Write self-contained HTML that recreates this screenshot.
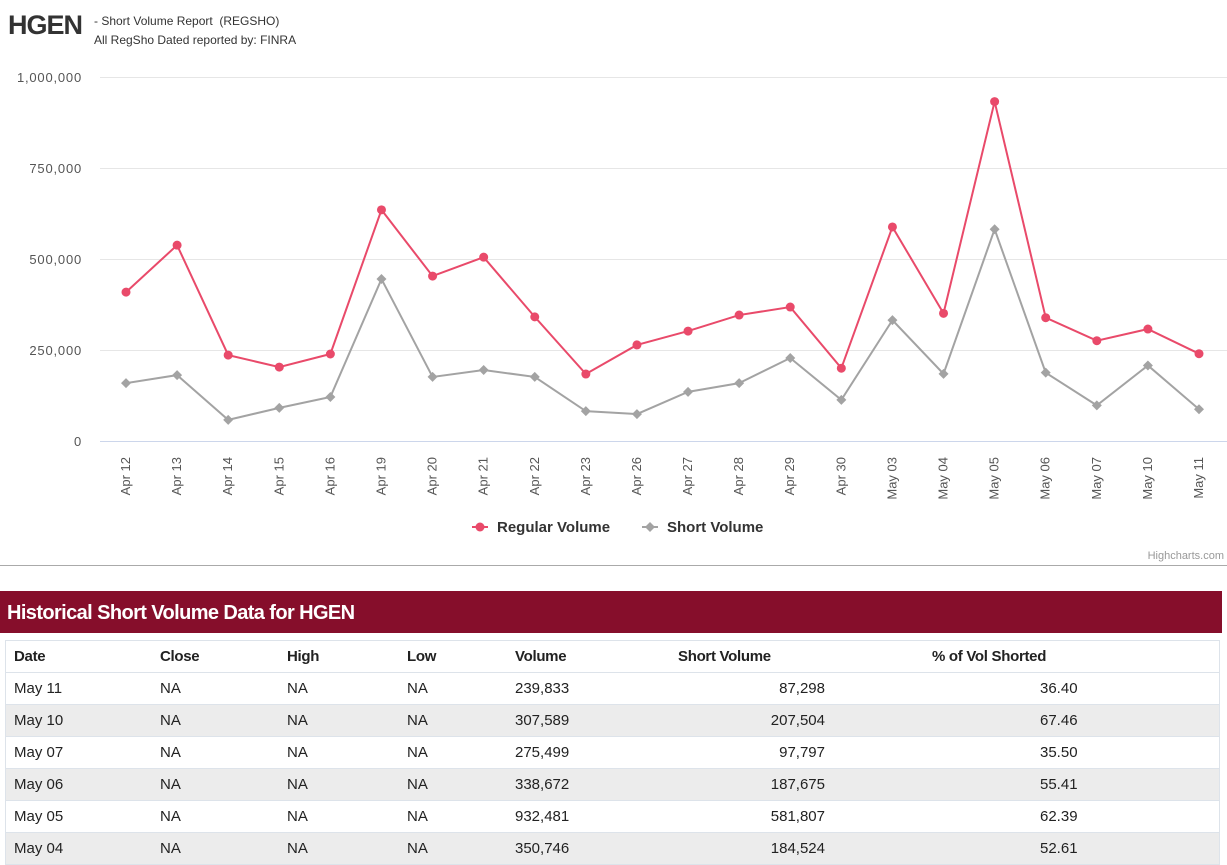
<!DOCTYPE html>
<html><head><meta charset="utf-8"><style>
body{margin:0;width:1227px;height:865px;overflow:hidden;background:#fff;font-family:"Liberation Sans",sans-serif;color:#222;position:relative}
.abs{position:absolute}
table{border-collapse:collapse;position:absolute;left:5px;top:640px;width:1215px;font-size:15px;border:1px solid #dde3ea}
td,th{height:31px;padding:0;border-bottom:1px solid #dde3ea;text-align:left}
th{font-weight:bold;font-size:15px;letter-spacing:-0.3px}
tr.g td{background:#ececec}
</style></head><body>
<div class="abs" style="left:8px;top:10px;font-size:27px;font-weight:bold;color:#333;letter-spacing:-1px">HGEN</div>
<div class="abs" style="left:94px;top:12px;font-size:12px;line-height:19px;color:#333">- Short Volume Report&nbsp; (REGSHO)<br>All RegSho Dated reported by: FINRA</div>
<svg class="abs" style="left:0;top:0" width="1227" height="570">
<g id="grid"></g><g id="ylab"></g><g id="xlab"></g><g id="series"></g>
<g>
<line x1="472" y1="527" x2="488" y2="527" stroke="#e94a6a" stroke-width="2"/><circle cx="480" cy="527" r="4.5" fill="#e94a6a"/>
<text x="497" y="532" font-size="15" font-weight="bold" fill="#333">Regular Volume</text>
<line x1="642" y1="527" x2="658" y2="527" stroke="#a3a3a3" stroke-width="2"/><path d="M650 522 L655 527 L650 532 L645 527Z" fill="#a3a3a3"/>
<text x="667" y="532" font-size="15" font-weight="bold" fill="#333">Short Volume</text>
</g>
<text x="1224" y="559" text-anchor="end" font-size="11" fill="#999">Highcharts.com</text>
<line x1="0" y1="565.5" x2="1227" y2="565.5" stroke="#aaa"/>
</svg>
<div class="abs" style="left:0;top:591px;width:1222px;height:42px;background:#860e2b;color:#fff;font-size:20px;font-weight:bold;line-height:44px;padding-left:7px;box-sizing:border-box;letter-spacing:-0.6px">Historical Short Volume Data for HGEN</div>
<table>
<tr><th style="padding-left:8px;width:146px">Date</th><th style="width:127px">Close</th><th style="width:120px">High</th><th style="width:108px">Low</th><th style="width:163px">Volume</th><th style="width:147px">Short Volume</th><th style="width:107px"></th><th>% of Vol Shorted</th></tr>
<tbody id="tb"></tbody></table>
<script>
const cats=["Apr 12","Apr 13","Apr 14","Apr 15","Apr 16","Apr 19","Apr 20","Apr 21","Apr 22","Apr 23","Apr 26","Apr 27","Apr 28","Apr 29","Apr 30","May 03","May 04","May 05","May 06","May 07","May 10","May 11"];
const regular=[409000,538000,236000,203000,239000,635000,453000,505000,341000,184000,264000,302000,346000,368000,200000,588000,350746,932481,338672,275499,307589,239833];
const shortVol=[159000,181000,58000,91000,121000,445000,176000,195000,176000,82000,74000,135000,159000,228000,113000,332000,184524,581807,187675,97797,207504,87298];
const yTicks=[0,250000,500000,750000,1000000];
const ns="http://www.w3.org/2000/svg";
const x0=126,x1=1199,yb=441,yt=77;
const X=i=>x0+i*(x1-x0)/(cats.length-1);
const Y=v=>yb-v/1e6*(yb-yt);
function mk(t,a,p){const e=document.createElementNS(ns,t);for(const k in a)e.setAttribute(k,a[k]);document.getElementById(p).appendChild(e);return e;}
yTicks.forEach(v=>{
 const l=mk('line',{x1:100,x2:1227,y1:Y(v)+0.5,y2:Y(v)+0.5,stroke:v?'#e6e6e6':'#ccd6eb'},'grid');
 
 
 const t=mk('text',{x:82,y:Y(v)+5,'text-anchor':'end','font-size':13,fill:'#555','letter-spacing':'0.8'},'ylab');
 t.textContent=v.toLocaleString('en-US');
 
 
});
cats.forEach((c,i)=>{
 const t=mk('text',{x:0,y:0,'text-anchor':'end','font-size':13,fill:'#555',transform:`translate(${X(i)+4},457) rotate(-90)`},'xlab');
 t.textContent=c;
 
 
});
function series(d,col,shape,name){
 const p=mk('polyline',{points:d.map((v,i)=>X(i)+','+Y(v)).join(' '),fill:'none',stroke:col,'stroke-width':2},'series');
 
 
 d.forEach((v,i)=>{
  const x=X(i),y=Y(v);
  const m=shape==='c'?mk('circle',{cx:x,cy:y,r:4.5,fill:col},'series'):mk('path',{d:`M${x} ${y-5}L${x+5} ${y}L${x} ${y+5}L${x-5} ${y}Z`,fill:col},'series');
  
  
 });
}
series(regular,'#e94a6a','c','regular-volume');
series(shortVol,'#a3a3a3','d','short-volume');
const tb=document.getElementById('tb');
const f=v=>v.toLocaleString('en-US');
for(let k=0;k<6;k++){
 const i=cats.length-1-k;
 const tr=document.createElement('tr');
 
 
 if(k%2)tr.className='g';
 tr.innerHTML=`<td style="padding-left:8px">${cats[i]}</td><td>NA</td><td>NA</td><td>NA</td><td>${f(regular[i])}</td><td style="text-align:right">${f(shortVol[i])}</td><td></td><td style="padding-left:108px">${(shortVol[i]/regular[i]*100).toFixed(2)}</td>`;
 tb.appendChild(tr);
}
</script>
</body></html>
